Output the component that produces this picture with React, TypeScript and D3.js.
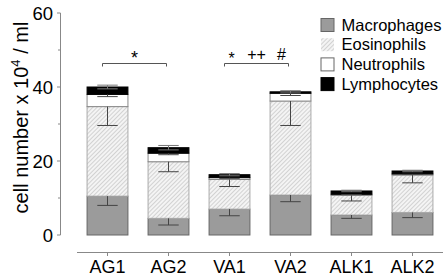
import React from "react";
import * as d3 from "d3";

const groups = ["AG1", "AG2", "VA1", "VA2", "ALK1", "ALK2"];
const cellTypes = ["Macrophages", "Eosinophils", "Neutrophils", "Lymphocytes"];
const macrophages = [10.5, 4.5, 7.0, 10.8, 5.4, 6.1];
const macrophagesSd = [2.5, 1.8, 1.8, 1.8, 0.9, 1.4];
const eosinophils = [24.2, 15.3, 8.0, 25.4, 5.3, 10.1];
const eosinophilsSd = [5.1, 2.7, 1.9, 6.6, 1.5, 2.1];
const neutrophils = [3.3, 2.3, 0.5, 2.1, 0.3, 0.3];
const neutrophilsSd = [0.6, 0.4, 0.2, 0.6, 0.1, 0.1];
const lymphocytes = [2.0, 1.5, 0.8, 0.4, 0.9, 0.8];
const lymphocytesSd = [0.5, 0.6, 0.3, 0.3, 0.2, 0.2];
const yTicks = [0, 20, 40, 60];
const yMinorTicks = [10, 30, 50];
const brackets = [
  { from: "AG1", to: "AG2", labels: ["*"] },
  { from: "VA1", to: "VA2", labels: ["*", "++", "#"] },
];

const W = 447;
const H = 278;
const FONT = "'Liberation Sans', Arial, Helvetica, sans-serif";

export default function App() {
  const x = d3.scaleBand().domain(groups).range([77, 443]).paddingInner(0.33).paddingOuter(0.165);
  const y = d3.scaleLinear().domain([0, 60]).range([235, 13]);
  const series = [
    { name: cellTypes[0], values: macrophages, sd: macrophagesSd },
    { name: cellTypes[1], values: eosinophils, sd: eosinophilsSd },
    { name: cellTypes[2], values: neutrophils, sd: neutrophilsSd },
    { name: cellTypes[3], values: lymphocytes, sd: lymphocytesSd },
  ];
  const fills: Record<string, string> = {
    Macrophages: "#9b9b9b",
    Eosinophils: "url(#hatch)",
    Neutrophils: "#ffffff",
    Lymphocytes: "#000000",
  };
  const strokes: Record<string, string> = {
    Macrophages: "#666",
    Eosinophils: "#aaa",
    Neutrophils: "#888",
    Lymphocytes: "#000",
  };
  const bw = x.bandwidth();
  const capW = bw / 2;

  const rects: React.ReactNode[] = [];
  const errs: React.ReactNode[] = [];
  groups.forEach((g, gi) => {
    let base = 0;
    const x0 = x(g)!;
    const cx = x0 + bw / 2;
    series.forEach((s, si) => {
      const v = s.values[gi];
      const top = base + v;
      rects.push(
        <rect
          key={`r-${gi}-${si}`}
          x={x0}
          y={y(top)}
          width={bw}
          height={y(base) - y(top)}
          fill={fills[s.name]}
          stroke={strokes[s.name]}
          strokeWidth={1}
        />
      );
      const sd = s.sd[gi];
      const isTop = si === series.length - 1;
      const eColor = isTop ? "#777" : "#444";
      const hi = isTop ? top + sd : top;
      errs.push(
        <g key={`e-${gi}-${si}`} stroke={eColor} strokeWidth={1}>
          <line x1={cx} x2={cx} y1={y(hi)} y2={y(top - sd)} />
          {isTop && (
            <line x1={cx - capW / 2} x2={cx + capW / 2} y1={y(top + sd)} y2={y(top + sd)} />
          )}
          <line x1={cx - capW / 2} x2={cx + capW / 2} y1={y(top - sd)} y2={y(top - sd)} />
        </g>
      );
      base = top;
    });
  });

  return (
    <svg width={W} height={H} style={{ position: "absolute", left: 0, top: 0 }} fontFamily={FONT}>
      <defs>
        <pattern id="hatch" patternUnits="userSpaceOnUse" width={3} height={3} patternTransform="rotate(45)">
          <rect width={3} height={3} fill="#f4f4f4" />
          <line x1={0} y1={0} x2={0} y2={3} stroke="#b0b0b0" strokeWidth={1} />
        </pattern>
      </defs>
      <rect width={W} height={H} fill="#fff" />

      {/* y axis */}
      <line x1={60.5} x2={60.5} y1={y(60)} y2={y(0)} stroke="#888" strokeWidth={1} />
      {yTicks.map((t) => (
        <g key={`yt-${t}`}>
          <line x1={57} x2={60.5} y1={y(t)} y2={y(t)} stroke="#888" />
          <text x={53} y={y(t)} dy="0.36em" textAnchor="end" fontSize={18.5} fill="#000">
            {t}
          </text>
        </g>
      ))}
      {yMinorTicks.map((t) => (
        <line key={`ym-${t}`} x1={58} x2={60.5} y1={y(t)} y2={y(t)} stroke="#888" />
      ))}
      <text
        transform={`translate(27.5,${(18 + 217) / 2}) rotate(-90)`}
        textAnchor="middle"
        fontSize={20}
        fill="#000"
      >
        cell number x 10<tspan dy={-8} fontSize={13}>4</tspan>
        <tspan dy={8}> / ml</tspan>
      </text>

      {/* x axis */}
      <line x1={77} x2={443} y1={252.5} y2={252.5} stroke="#888" strokeWidth={1} />
      {groups.map((g) => {
        const cx = x(g)! + bw / 2;
        return (
          <g key={`xt-${g}`}>
            <line x1={cx} x2={cx} y1={252.5} y2={256} stroke="#888" />
            <text x={cx} y={273} textAnchor="middle" fontSize={18} fill="#000">
              {g}
            </text>
          </g>
        );
      })}

      {rects}
      {errs}

      {/* significance brackets */}
      {brackets.map((b, bi) => {
        const xa = x(b.from)! + bw / 2 - 5;
        const xb = x(b.to)! + bw / 2 - 2;
        const yl = 63.5;
        const n = b.labels.length;
        return (
          <g key={`br-${bi}`}>
            <path
              d={`M${xa},${yl + 3}V${yl}H${xb}V${yl + 3}`}
              fill="none"
              stroke="#555"
              strokeWidth={1}
            />
            {b.labels.map((l, li) => {
              const lx = n === 1 ? (xa + xb) / 2 : xa + 7 + ((xb - xa - 14) * li) / (n - 1);
              const isStar = l === "*";
              const fs = n === 1 ? 18 : 16;
              const by = isStar ? (n === 1 ? 64 : 63.5) : 60;
              return (
                <text key={li} x={lx} y={by} textAnchor="middle" fontSize={fs} fill="#000">
                  {l}
                </text>
              );
            })}
          </g>
        );
      })}

      {/* legend */}
      {cellTypes.map((c, i) => {
        const cy = 25 + i * 19.7;
        return (
          <g key={`lg-${c}`}>
            <rect
              x={321}
              y={cy - 6.5}
              width={13}
              height={13}
              fill={fills[c]}
              stroke={c === "Eosinophils" ? "none" : c === "Lymphocytes" ? "#000" : "#666"}
            />
            <text x={341.5} y={cy} dy="0.35em" fontSize={16.5} fill="#000">
              {c}
            </text>
          </g>
        );
      })}
    </svg>
  );
}
